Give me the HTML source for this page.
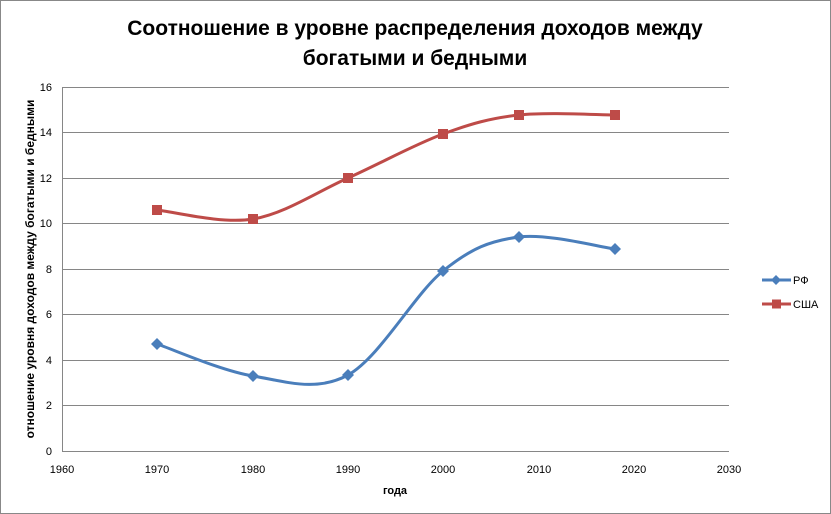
<!DOCTYPE html>
<html><head><meta charset="utf-8"><style>
html,body{margin:0;padding:0;background:#fff}
svg{display:block}
text{font-family:"Liberation Sans","DejaVu Sans",sans-serif}
</style></head><body>
<svg width="831" height="514" viewBox="0 0 831 514" xmlns="http://www.w3.org/2000/svg">
<rect x="0.5" y="0.5" width="830" height="513" fill="#fff" stroke="#888"/>
<text x="415" y="35" text-anchor="middle" font-size="21" font-weight="bold">Соотношение в уровне распределения доходов между</text>
<text x="415" y="65" text-anchor="middle" font-size="21" font-weight="bold">богатыми и бедными</text>
<g stroke="#868686" stroke-width="1">
<line x1="62" y1="87.5" x2="729" y2="87.5"/>
<line x1="62" y1="132.5" x2="729" y2="132.5"/>
<line x1="62" y1="178.5" x2="729" y2="178.5"/>
<line x1="62" y1="223.5" x2="729" y2="223.5"/>
<line x1="62" y1="269.5" x2="729" y2="269.5"/>
<line x1="62" y1="314.5" x2="729" y2="314.5"/>
<line x1="62" y1="360.5" x2="729" y2="360.5"/>
<line x1="62" y1="405.5" x2="729" y2="405.5"/>
<line x1="62" y1="451.5" x2="729" y2="451.5"/>
<line x1="62.5" y1="87" x2="62.5" y2="451"/>
</g>
<g font-size="11" text-anchor="end">
<text x="52" y="91">16</text><text x="52" y="136">14</text><text x="52" y="182">12</text>
<text x="52" y="227">10</text><text x="52" y="273">8</text><text x="52" y="318">6</text>
<text x="52" y="364">4</text><text x="52" y="409">2</text><text x="52" y="455">0</text>
</g>
<g font-size="11" text-anchor="middle">
<text x="62" y="473">1960</text><text x="157" y="473">1970</text><text x="253" y="473">1980</text>
<text x="348" y="473">1990</text><text x="443" y="473">2000</text><text x="539" y="473">2010</text>
<text x="634" y="473">2020</text><text x="729" y="473">2030</text>
</g>
<text x="395" y="494" text-anchor="middle" font-size="11" font-weight="bold">года</text>
<text transform="translate(34,269) rotate(-90)" text-anchor="middle" font-size="12" font-weight="bold">отношение уровня  доходов между богатыми и бедными</text>
<path d="M157,344 C173,349.3 221.2,370.8 253,376 C284.8,381.2 316.3,392.5 348,375 C379.7,357.5 414.5,294 443,271 C471.5,248 490.3,240.7 519,237 C547.7,233.3 599,247 615,249" fill="none" stroke="#4a7ebb" stroke-width="3"/>
<path d="M157,210 C173,211.5 221.2,224.3 253,219 C284.8,213.7 316.3,192.2 348,178 C379.7,163.8 414.5,144.5 443,134 C471.5,123.5 490.3,118.2 519,115 C547.7,111.8 599,115 615,115" fill="none" stroke="#be4b48" stroke-width="3"/>
<g fill="#4a7ebb">
<path d="M157,338 l6,6 l-6,6 l-6,-6z"/><path d="M253,370 l6,6 l-6,6 l-6,-6z"/>
<path d="M348,369 l6,6 l-6,6 l-6,-6z"/><path d="M443,265 l6,6 l-6,6 l-6,-6z"/>
<path d="M519,231 l6,6 l-6,6 l-6,-6z"/><path d="M615,243 l6,6 l-6,6 l-6,-6z"/>
</g>
<g fill="#be4b48">
<rect x="152" y="205" width="10" height="10"/><rect x="248" y="214" width="10" height="10"/>
<rect x="343" y="173" width="10" height="10"/><rect x="438" y="129" width="10" height="10"/>
<rect x="514" y="110" width="10" height="10"/><rect x="610" y="110" width="10" height="10"/>
</g>
<line x1="762" y1="280" x2="791" y2="280" stroke="#4a7ebb" stroke-width="3"/>
<path d="M776,275 l5,5 l-5,5 l-5,-5z" fill="#4a7ebb"/>
<text x="793" y="284" font-size="11">РФ</text>
<line x1="762" y1="304" x2="791" y2="304" stroke="#be4b48" stroke-width="3"/>
<rect x="772" y="299.5" width="9" height="9" fill="#be4b48"/>
<text x="793" y="308" font-size="11">США</text>
</svg>
</body></html>
